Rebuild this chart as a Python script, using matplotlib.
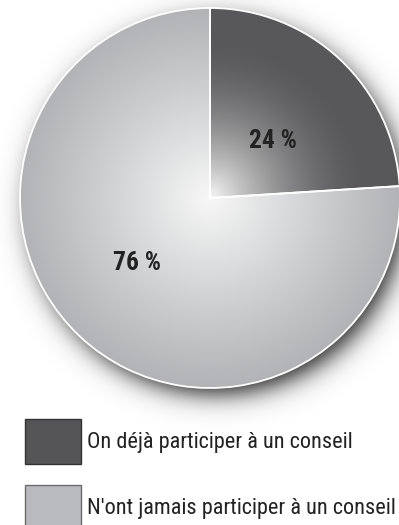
import numpy as np
import matplotlib
matplotlib.use("Agg")
import matplotlib.pyplot as plt
from matplotlib import font_manager
from matplotlib.patches import Rectangle

# parts of the pie (percent)
labels = ["On déjà participer à un conseil", "N'ont jamais participer à un conseil"]
values = [24, 76]
rim_colors = ["#58585a", "#acaeb1"]
swatch_colors = ["#555557", "#b9babd"]
swatch_edges = ["#333333", "#6c6c6c"]

W, H = 399, 525
CX, CY, R = 210, H - 198, 190


def pick_font():
    # prefer a narrow sans face if one is installed
    entries = font_manager.fontManager.ttflist
    names = {f.name for f in entries}
    for fam in ["Liberation Sans Narrow", "Roboto Condensed", "Open Sans Condensed",
                "Noto Sans Condensed", "DejaVu Sans Condensed"]:
        if fam in names:
            return fam, "normal"
    for fam in ["Roboto", "Noto Sans", "Open Sans", "DejaVu Sans"]:
        for f in entries:
            if f.name == fam and "condensed" in str(f.stretch):
                return fam, "condensed"
    return "Roboto", "normal"


family, stretch = pick_font()

fig = plt.figure(figsize=(W / 100, H / 100), dpi=100)
ax = fig.add_axes([0, 0, 1, 1])

wedges, texts, autotexts = ax.pie(
    values, center=(CX, CY), radius=R, startangle=90, counterclock=False,
    colors=rim_colors, autopct=lambda p: f"{p:.0f} %", pctdistance=0.48,
    wedgeprops=dict(edgecolor="white", linewidth=1.3),
)

# soft drop shadow to the lower right
pad = 60
gx = np.linspace(CX - R - pad, CX + R + pad, 540)
gy = np.linspace(CY - R - pad, CY + R + pad, 540)
X, Y = np.meshgrid(gx, gy)
d = np.hypot(X - (CX + 7), Y - (CY - 9))
alpha = 0.9 / (1 + np.exp((d - (R - 3)) / 7.5))
shadow = np.zeros(X.shape + (4,))
shadow[..., 3] = alpha
ax.imshow(shadow, extent=(gx[0], gx[-1], gy[0], gy[-1]), origin="lower",
          interpolation="bilinear", zorder=0.5)

# radial shading inside each wedge
gx = np.linspace(CX - R, CX + R, 400)
gy = np.linspace(CY - R, CY + R, 400)
X, Y = np.meshgrid(gx, gy)
t = np.clip(np.hypot(X - CX, Y - CY) / R, 0, 1)
shade = [(0.85, 1.8), (1.1, 1.1)]
center_rgb = np.array([0.97, 0.97, 0.97])
for w, col, (k, p) in zip(wedges, rim_colors, shade):
    rim = np.array(matplotlib.colors.to_rgb(col))
    f = np.clip(1 - t / k, 0, 1) ** p
    img = rim + (center_rgb - rim) * f[..., None]
    im = ax.imshow(img, extent=(gx[0], gx[-1], gy[0], gy[-1]), origin="lower",
                   interpolation="bilinear", zorder=1)
    im.set_clip_path(w)
    w.set_facecolor("none")
    w.set_zorder(2)

label_pos = [(273, H - 141), (137, H - 263)]
for txt, pos in zip(autotexts, label_pos):
    txt.set_position(pos)
    txt.set(fontsize=16, fontweight="bold", color="#222222", family=family,
            fontstretch=stretch, zorder=3, ha="center", va="center")

# legend: swatch plus label per part
leg_texts = []
for i, (lab, c, e) in enumerate(zip(labels, swatch_colors, swatch_edges)):
    top = 419 + i * 66
    ax.add_patch(Rectangle((25, H - top - 45), 56, 45, facecolor=c, edgecolor=e,
                           linewidth=1.0, zorder=3))
    leg_texts.append(ax.text(87, H - top - 29, lab, fontsize=16, family=family,
                             fontstretch=stretch, color="#222222", va="baseline",
                             ha="left", zorder=3))

ax.set_xlim(0, W)
ax.set_ylim(0, H)
ax.set_aspect("equal")
ax.axis("off")

# fit text sizes to the available widths
renderer = fig.canvas.get_renderer()
wide = leg_texts[1].get_window_extent(renderer).width
size = 16 * 309 / wide
for tx in leg_texts:
    tx.set_fontsize(size)
wide = autotexts[0].get_window_extent(renderer).width
size = 16 * 48 / wide
for tx in autotexts:
    tx.set_fontsize(size)

fig.savefig("out.png", dpi=100)
